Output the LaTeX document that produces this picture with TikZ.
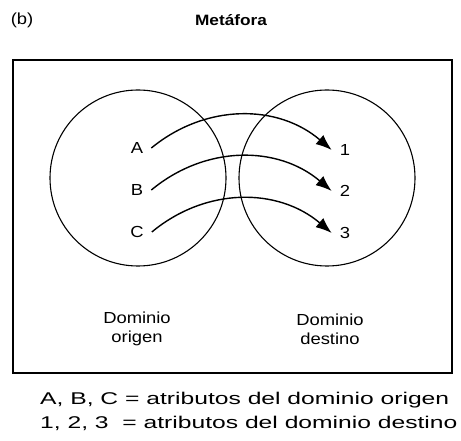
\documentclass[tikz,border=0pt]{standalone}
\usepackage{fontspec}
\setmainfont{Liberation Sans}
\newfontfamily\labelfont[FakeStretch=1.15]{Liberation Sans}
\newfontfamily\notefont[FakeStretch=1.45]{Liberation Sans}
\usepackage{tikz}
\usetikzlibrary{arrows.meta, positioning}

\begin{document}
\begin{tikzpicture}[
    x=1pt, y=-1pt,
    font=\labelfont\fontsize{16}{19}\selectfont,
    field/.style={
        draw,
        circle,
        line width=1.1pt,
        minimum size=176pt
    },
    attr/.style={
        inner sep=8pt
    },
    caption/.style={
        align=center,
        inner sep=0pt
    },
    note/.style={
        anchor=west,
        inner sep=0pt,
        font=\notefont\fontsize{17}{20}\selectfont
    },
    link/.style={
        -{Latex[length=16pt,width=12pt]},
        line width=1.4pt
    }
]
\useasboundingbox (0,0) rectangle (461,441);

% Heading
\node[inner sep=0pt] (tag) at (22,20) {(b)};
\node[inner sep=0pt, font=\labelfont\bfseries\fontsize{15}{18}\selectfont] (title) at (231,20) {Metáfora};

% Frame
\node[draw, line width=1.5pt, minimum width=439pt, minimum height=313pt, inner sep=0pt] (frame) at (232.5,216.5) {};

% Domains
\node[field] (origen) at (138,178) {};
\node[field] (destino) at (327,178) {};

% Attributes
\node[attr] (a) at (137,148) {A};
\node[attr] (b) at (137,190) {B};
\node[attr] (c) at (137,232) {C};
\node[attr] (n1) at (345,150) {1};
\node[attr] (n2) at (345,191) {2};
\node[attr] (n3) at (345,233) {3};

% Domain captions
\node[caption] (cap1) at (137,329) {Dominio\\origen};
\node[caption] (cap2) at (330,329) {Dominio\\destino};

% Mappings
\draw[link] (a.east) to[bend left=40] (n1.west);
\draw[link] (b.east) to[bend left=40] (n2.west);
\draw[link] (c.east) to[bend left=40] (n3.west);

% Legend
\node[note] (key1) at (40,400) {A, B, C = atributos del dominio origen};
\node[note] (key2) at (40,423) {1, 2, 3 \ = atributos del dominio destino};

\end{tikzpicture}
\end{document}
